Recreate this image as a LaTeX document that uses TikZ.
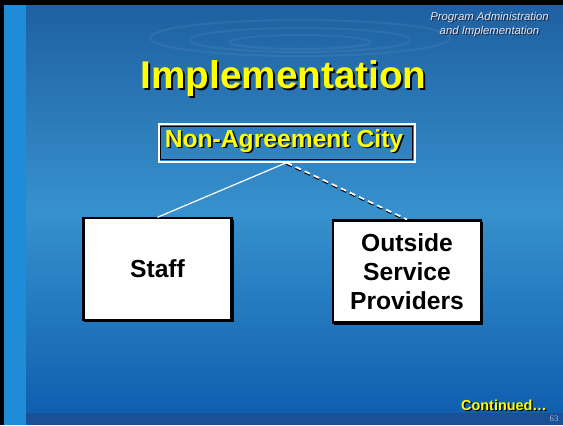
\documentclass[tikz,border=0pt]{standalone}
\usepackage{fontspec}
\setmainfont{Liberation Sans}
\newfontfamily\serifnum{Liberation Serif}
\usetikzlibrary{shadings}
\definecolor{bgtop}{RGB}{30,95,160}
\definecolor{bgmid}{RGB}{55,145,205}
\definecolor{bgbot}{RGB}{15,95,175}
\definecolor{strip}{RGB}{30,140,215}
\definecolor{bandbot}{RGB}{25,80,150}
\definecolor{hdr}{RGB}{225,228,238}
\definecolor{hdrsh}{RGB}{30,40,70}
\definecolor{pgnum}{RGB}{170,185,200}
\definecolor{titley}{RGB}{255,255,0}
\newcommand\shtxt[3]{\makebox[0pt][l]{\kern#3\raisebox{-#3}{\color{#2}#1}}#1}
\tikzset{
  titletxt/.style={text=titley,font=\bfseries\fontsize{29}{33}\selectfont,inner sep=0pt,anchor=base},
  hdrtxt/.style={text=hdr,font=\itshape\fontsize{8.5}{10.5}\selectfont,align=center,inner sep=0pt},
  nacbox/.style={draw=white,line width=1.5pt,minimum width=192pt,minimum height=28pt,inner sep=0pt},
  nactxt/.style={text=titley,font=\bfseries\fontsize{18.5}{21}\selectfont,inner sep=0pt,anchor=base},
  orgbox/.style={draw=black,fill=white,line width=1.6pt,inner sep=0pt,align=center,
    font=\bfseries\fontsize{18.5}{21.75}\selectfont},
  solidlink/.style={draw=white,line width=0.9pt},
  dashlink/.style={line width=1.3pt,dash pattern=on 4.5pt off 3pt},
  contxt/.style={text=titley,font=\bfseries\fontsize{10.8}{12}\selectfont,inner sep=0pt,anchor=base},
}
\begin{document}
\begin{tikzpicture}[x=0.75pt,y=-0.75pt]
\useasboundingbox (0,0) rectangle (563,425);
% background
\shade[top color=bgtop,bottom color=bgmid] (0,0) rectangle (563,212);
\shade[top color=bgmid,bottom color=bgbot] (0,212) rectangle (563,413);
\fill[bandbot] (0,413) rectangle (563,425);
\fill[strip] (4,5) rectangle (26,425);
\fill[black] (0,0) rectangle (563,5);
\fill[black] (0,0) rectangle (4,425);
% faint ripples
\begin{scope}[white,opacity=0.06,line width=1.5pt]
\draw (300,38) ellipse (150 and 18);
\draw (300,40) ellipse (110 and 12);
\draw (300,42) ellipse (70 and 7);
\end{scope}
% header
\node[hdrtxt] (hdr) at (489.5,25) {\shtxt{Program Administration}{hdrsh}{0.8pt}\\\shtxt{and Implementation}{hdrsh}{0.8pt}};
% title
\node[titletxt] (title) at (283.5,88) {\shtxt{Implementation}{black}{1.6pt}};
% boxes
\node[nacbox] (nac) at (286.5,143) {};
\draw[black,line width=1pt] ([shift={(2.3pt,-2.3pt)}]nac.north west) rectangle ([shift={(-2.3pt,2.3pt)}]nac.south east);
\node[nactxt] (nactxt) at (284,147) {\shtxt{Non-Agreement City}{black}{1.2pt}};
\fill[black] (84,219.5) rectangle (234,322);
\node[orgbox,minimum width=111pt,minimum height=76pt] (staff) at (157.5,269) {Staff};
\fill[black] (334,221.5) rectangle (483,325);
\node[orgbox,minimum width=110.5pt,minimum height=76.5pt] (out) at (407,271.5) {Outside\\Service\\Providers};
% connectors
\draw[solidlink] (nac.south) -- (staff.north);
\draw[dashlink,black,transform canvas={yshift=-0.9pt}] (nac.south) -- (out.north);
\draw[dashlink,white] (nac.south) -- (out.north);
% footer
\node[contxt] (cont) at (504,410) {\shtxt{Continued\ldots}{black}{1pt}};
\node[text=pgnum,font=\serifnum\fontsize{6.5}{7}\selectfont,inner sep=0pt,anchor=base] (pg) at (554,421) {63};
\end{tikzpicture}
\end{document}
